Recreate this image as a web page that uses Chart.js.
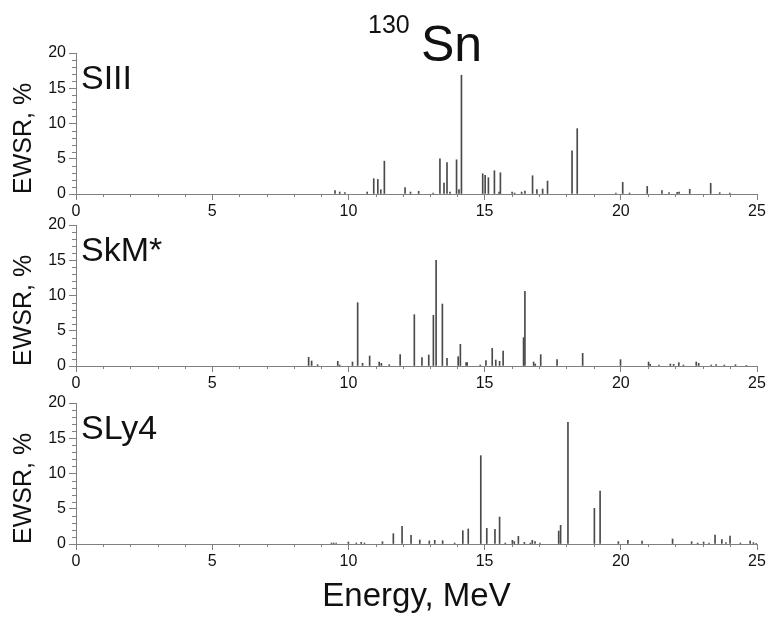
<!DOCTYPE html>
<html><head><meta charset="utf-8">
<script src="https://cdn.jsdelivr.net/npm/chart.js@4.4.1/dist/chart.umd.min.js"></script>
<style>
html,body{margin:0;padding:0;background:#fff;}
#wrap{position:relative;width:772px;height:623px;overflow:hidden;background:#fff;}
canvas{position:absolute;left:0;}
</style></head><body>
<div id="wrap">
<canvas id="c1" width="772" height="230" style="top:0px"></canvas>
<canvas id="c2" width="772" height="200" style="top:200px"></canvas>
<canvas id="c3" width="772" height="243" style="top:380px"></canvas>
</div>
<script>
// ---- data ----
const energyTicks = [0, 5, 10, 15, 20, 25];
const ewsrTicks = [0, 5, 10, 15, 20];
const panelNames = ["SIII", "SkM*", "SLy4"];

const siiiEnergy = [9.51,9.68,9.87,10.69,10.93,11.08,11.19,11.32,12.08,12.28,12.58,13.11,13.36,13.51,13.62,13.73,13.97,14.06,14.15,14.93,15.02,15.14,15.36,15.53,15.58,16.01,16.10,16.36,16.48,16.76,16.92,17.13,17.31,18.21,18.40,19.82,20.07,20.32,20.97,21.51,21.77,22.07,22.14,22.53,23.30,23.63,24.00];
const siiiEWSR   = [0.47,0.28,0.20,0.28,2.17,2.07,0.61,4.66,0.90,0.28,0.38,0.14,4.99,1.55,4.47,0.28,4.85,0.61,16.85,2.87,2.64,2.31,3.30,0.28,3.01,0.28,0.14,0.28,0.42,2.59,0.61,0.71,1.84,6.12,9.27,0.14,1.65,0.14,1.08,0.47,0.19,0.24,0.28,0.66,1.51,0.19,0.14];

const skmEnergy = [8.54,8.65,8.87,9.61,9.68,10.15,10.34,10.52,10.78,11.13,11.21,11.50,11.90,12.42,12.70,12.95,13.12,13.22,13.45,13.62,14.03,14.11,14.32,14.36,14.84,15.05,15.28,15.41,15.55,15.68,16.43,16.48,16.80,16.86,17.06,17.66,18.60,19.99,21.02,21.08,21.40,21.82,21.94,22.13,22.30,22.77,22.86,23.32,23.50,23.80,24.21,24.61];
const skmEWSR   = [1.23,0.71,0.19,0.66,0.14,0.57,8.98,0.38,1.42,0.57,0.38,0.19,1.61,7.28,1.18,1.56,7.19,15.00,8.79,1.09,1.32,3.07,0.47,0.47,0.14,0.76,2.50,0.85,0.66,2.13,4.02,10.59,0.57,0.28,1.61,0.90,1.80,0.90,0.57,0.24,0.14,0.28,0.24,0.47,0.14,0.57,0.38,0.14,0.19,0.14,0.19,0.10];

const sly4Energy = [9.38,9.46,9.55,10.00,10.29,10.47,10.59,11.25,11.65,11.97,12.30,12.62,12.97,13.17,13.46,13.90,14.20,14.40,14.86,15.08,15.38,15.55,15.76,16.02,16.09,16.24,16.46,16.68,16.75,16.85,17.03,17.72,17.79,18.06,19.03,19.24,19.91,20.26,20.78,21.90,22.60,22.82,23.04,23.24,23.46,23.71,23.86,24.01,24.39,24.75,24.87,24.97];
const sly4EWSR   = [0.14,0.14,0.14,0.28,0.14,0.24,0.14,0.33,1.47,2.50,1.23,0.57,0.43,0.52,0.47,0.14,1.89,2.13,12.53,2.22,2.08,3.83,0.14,0.52,0.33,1.09,0.24,0.14,0.52,0.33,0.14,1.84,2.65,17.26,5.06,7.52,0.33,0.52,0.43,0.71,0.33,0.14,0.28,0.14,1.28,0.61,0.19,1.13,0.14,0.43,0.19,0.10];

// ---- styling ----
const FONT = "'Liberation Sans', Arial, Helvetica, sans-serif";
const AXIS = '#808080';
const INK = '#111111';
const BAR = '#4a4a4a';

const minorTicks = {
  id: 'minorTicks',
  afterDraw(chart) {
    const {ctx, chartArea: a, scales: {x, y}} = chart;
    ctx.save();
    ctx.strokeStyle = AXIS; ctx.lineWidth = 1;
    ctx.beginPath();
    for (let v = energyTicks[0]; v <= energyTicks[energyTicks.length-1]; v++) {
      if (energyTicks.includes(v)) continue;
      const px = Math.round(x.getPixelForValue(v)) + 0.5;
      ctx.moveTo(px, a.bottom); ctx.lineTo(px, a.bottom + 3);
    }
    for (let v = ewsrTicks[0]; v <= ewsrTicks[ewsrTicks.length-1]; v++) {
      if (ewsrTicks.includes(v)) continue;
      const py = Math.round(y.getPixelForValue(v)) + 0.5;
      ctx.moveTo(a.left, py); ctx.lineTo(a.left - 4, py);
    }
    ctx.stroke();
    ctx.restore();
  }
};

const panelLabel = {
  id: 'panelLabel',
  afterDraw(chart, args, opts) {
    const {ctx, chartArea: a} = chart;
    ctx.save();
    ctx.fillStyle = INK;
    ctx.font = '34px ' + FONT;
    ctx.textBaseline = 'alphabetic';
    ctx.textAlign = 'left';
    ctx.fillText(opts.text, a.left + 5, a.top + 36);
    if (opts.title) {
      ctx.font = '25px ' + FONT;
      ctx.fillText('130', 368, 33);
      ctx.font = '50px ' + FONT;
      ctx.fillText('Sn', 421, 61);
    }
    ctx.restore();
  }
};

function makePanel(id, energies, values, name, padTop, xHeight, opts) {
  const points = energies.map((e, i) => ({x: e, y: values[i]}));
  return new Chart(document.getElementById(id), {
    type: 'bar',
    data: {datasets: [{data: points, backgroundColor: BAR, borderWidth: 0, barThickness: 1, grouped: false}]},
    plugins: [minorTicks, panelLabel],
    options: {
      responsive: false,
      animation: false,
      devicePixelRatio: 1,
      layout: {padding: {left: 0, right: 15, top: padTop, bottom: 0}},
      plugins: {
        legend: {display: false},
        tooltip: {enabled: false},
        panelLabel: {text: name, title: !!opts.title}
      },
      scales: {
        x: {
          type: 'linear', min: 0, max: 25, offset: false,
          afterBuildTicks: (s) => { s.ticks = energyTicks.map(v => ({value: v})); },
          afterFit: (s) => { s.height = xHeight; },
          ticks: {color: INK, font: {family: FONT, size: 16}, padding: 2, maxRotation: 0, autoSkip: false},
          grid: {display: true, drawOnChartArea: false, offset: false, tickLength: 6, tickColor: AXIS},
          border: {display: true, color: AXIS, width: 1},
          title: opts.xTitle ? {display: true, text: 'Energy, MeV', color: INK, font: {family: FONT, size: 33}, padding: {top: 0, bottom: 6}} : {display: false}
        },
        y: {
          min: 0, max: 20,
          afterBuildTicks: (s) => { s.ticks = ewsrTicks.map(v => ({value: v})); },
          afterFit: (s) => { s.width = 76; },
          ticks: {color: INK, font: {family: FONT, size: 16}, padding: 3},
          grid: {display: true, drawOnChartArea: false, tickLength: 7, tickColor: AXIS},
          border: {display: true, color: AXIS, width: 1},
          title: {display: true, text: 'EWSR, %', align: 'start', color: INK, font: {family: FONT, size: 25}, padding: {top: 9, bottom: 0}}
        }
      }
    }
  });
}

makePanel('c1', siiiEnergy, siiiEWSR, panelNames[0], 53, 36, {title: true});
makePanel('c2', skmEnergy, skmEWSR, panelNames[1], 25, 34, {});
makePanel('c3', sly4Energy, sly4EWSR, panelNames[2], 23, 79, {xTitle: true});
</script>
</body></html>
